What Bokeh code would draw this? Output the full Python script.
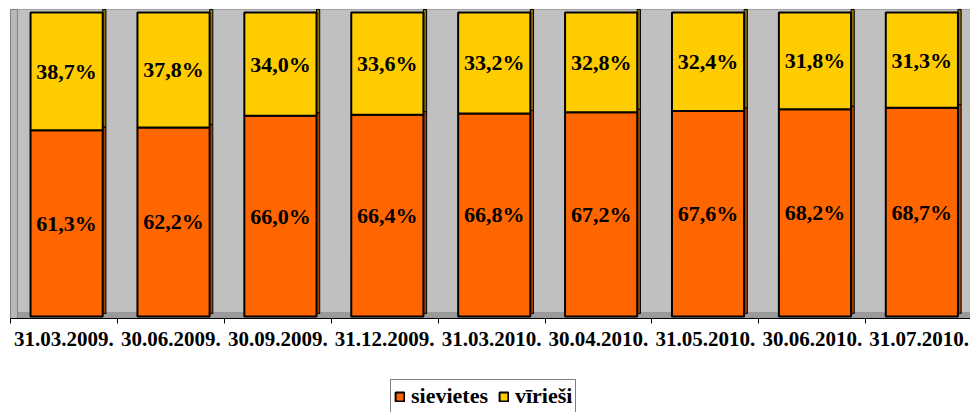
from bokeh.plotting import figure
from bokeh.models import ColumnDataSource, Range1d, FixedTicker, Legend, LegendItem
from bokeh.core.properties import value
from bokeh.embed import file_html
from bokeh.resources import INLINE

dates = ["31.03.2009.", "30.06.2009.", "30.09.2009.", "31.12.2009.", "31.03.2010.",
         "30.04.2010.", "31.05.2010.", "30.06.2010.", "31.07.2010."]
sievietes = [61.3, 62.2, 66.0, 66.4, 66.8, 67.2, 67.6, 68.2, 68.7]
viriesi = [38.7, 37.8, 34.0, 33.6, 33.2, 32.8, 32.4, 31.8, 31.3]

ORANGE = "#FF6600"
YELLOW = "#FFCC00"
n = len(dates)
BW = 0.675
XMAX = 8.98
AXIS_Y = -0.66
WALL_TOP = 101.0
centers = [i + 0.5 + 0.025 for i in range(n)]
tops = [s + v for s, v in zip(sievietes, viriesi)]

src = ColumnDataSource(dict(
    x=centers,
    s=sievietes,
    v=viriesi,
    top=tops,
    side_l=[c + BW / 2 for c in centers],
    side_r=[c + BW / 2 + 0.03 for c in centers],
    s_side_top=[s + 1.0 for s in sievietes],
    top_side=[t + 1.0 for t in tops],
    s_mid=[s / 2 for s in sievietes],
    v_mid=[s + v / 2 for s, v in zip(sievietes, viriesi)],
    s_lab=[f"{s:.1f}%".replace(".", ",") for s in sievietes],
    v_lab=[f"{v:.1f}%".replace(".", ",") for v in viriesi],
))

p = figure(width=970, height=412, output_backend="svg", toolbar_location=None,
           x_range=Range1d(-0.0935, XMAX), y_range=Range1d(-31.58, 103.95),
           min_border_left=0, min_border_right=0, min_border_top=0, min_border_bottom=0)
p.background_fill_color = "white"
p.border_fill_color = "white"
p.outline_line_color = None
p.grid.visible = False
p.yaxis.visible = False

# plot area, floor and left wall (3D look)
p.quad(left=0, right=XMAX, bottom=AXIS_Y, top=WALL_TOP, fill_color="#C0C0C0",
       line_color=None)
p.segment(x0=0, y0=WALL_TOP, x1=XMAX, y1=WALL_TOP, line_color="#A0A0A0", line_width=1)
p.quad(left=0, right=XMAX, bottom=AXIS_Y, top=1.5, fill_color="#9A9A9A", line_color=None)
p.quad(left=0, right=0.065, bottom=AXIS_Y, top=WALL_TOP, fill_color="#B8B8B8",
       line_color="#808080", line_width=1)

# 3D side strips
p.quad(left="side_l", right="side_r", bottom=1.0, top="s_side_top", source=src,
       fill_color="#A84400", line_color="black", line_width=1)
p.quad(left="side_l", right="side_r", bottom="s_side_top", top="top_side", source=src,
       fill_color="#8C7000", line_color="black", line_width=1)

r1 = p.vbar(x="x", width=BW, bottom=0, top="s", source=src,
            fill_color=ORANGE, line_color="black", line_width=2)
r2 = p.vbar(x="x", width=BW, bottom="s", top="top", source=src,
            fill_color=YELLOW, line_color="black", line_width=2)

p.text(x="x", y="s_mid", text="s_lab", source=src, text_align="center",
       text_baseline="middle", text_font=value("Liberation Serif"),
       text_font_style="bold", text_font_size="22px", text_color="black")
p.text(x="x", y="v_mid", text="v_lab", source=src, text_align="center",
       text_baseline="middle", text_font=value("Liberation Serif"),
       text_font_style="bold", text_font_size="22px", text_color="black")

ax = p.xaxis[0]
ax.fixed_location = AXIS_Y
ax.bounds = (0, XMAX)
ax.ticker = FixedTicker(ticks=[i + 0.5 for i in range(n)], minor_ticks=list(range(n + 1)))
ax.major_label_overrides = {i + 0.5: d for i, d in enumerate(dates)}
ax.major_tick_out = 0
ax.major_tick_in = 0
ax.minor_tick_out = 5
ax.minor_tick_in = 0
ax.minor_tick_line_color = "black"
ax.axis_line_color = "black"
ax.major_label_standoff = 8
ax.major_label_text_font = "Liberation Serif"
ax.major_label_text_font_style = "bold"
ax.major_label_text_font_size = "21px"
ax.major_label_text_color = "black"

legend = Legend(items=[LegendItem(label="sievietes", renderers=[r1]),
                       LegendItem(label="vīrieši", renderers=[r2])],
                orientation="horizontal", location=(390, -1),
                border_line_color="black", border_line_width=1,
                background_fill_color="white", background_fill_alpha=1.0,
                label_text_font="Liberation Serif", label_text_font_style="bold",
                label_text_font_size="22px", label_text_color="black",
                glyph_width=11, glyph_height=11, padding=3, spacing=10,
                label_standoff=6, margin=0)
p.add_layout(legend)

open("out.html", "w").write(file_html(p, INLINE))
